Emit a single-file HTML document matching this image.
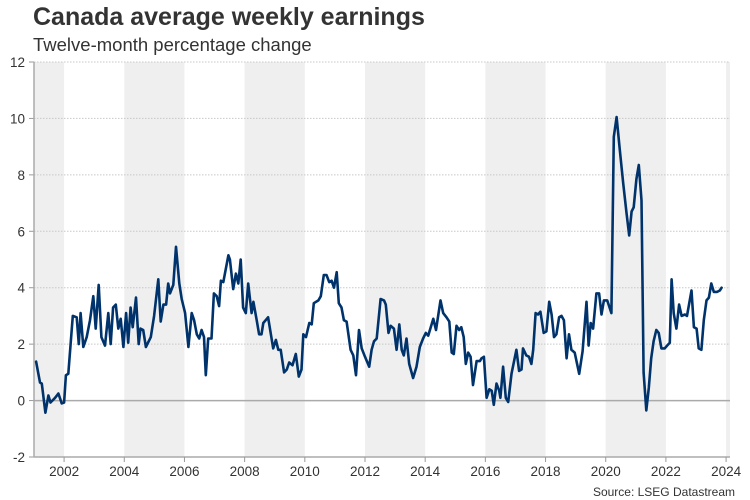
<!DOCTYPE html>
<html><head><meta charset="utf-8"><style>
body{margin:0;background:#fff;}
svg{display:block;font-family:"Liberation Sans",sans-serif;}
</style></head><body>
<svg id="chart" width="750" height="500">
<text x="33" y="25" font-size="25" font-weight="bold" fill="#333">Canada average weekly earnings</text>
<text x="33" y="51" font-size="18.5" fill="#333">Twelve-month percentage change</text>
<g id="bands"></g><g id="grid"></g><g id="axes"></g><g id="series"></g>
<text x="735" y="496" font-size="12" fill="#333" text-anchor="end">Source: LSEG Datastream</text>
</svg>
<script>
const yTicks=[-2,0,2,4,6,8,10,12];
const xTicks=[2002,2004,2006,2008,2010,2012,2014,2016,2018,2020,2022,2024];
const bandStarts=[2000,2004,2008,2012,2016,2020,2024];
const dates=[2001.07,2001.20,2001.26,2001.38,2001.48,2001.55,2001.70,2001.81,2001.92,2002.00,2002.06,2002.14,2002.29,2002.42,2002.49,2002.55,2002.64,2002.75,2002.86,2002.97,2003.05,2003.15,2003.24,2003.36,2003.47,2003.55,2003.63,2003.72,2003.80,2003.88,2003.97,2004.06,2004.13,2004.21,2004.28,2004.39,2004.48,2004.54,2004.63,2004.72,2004.88,2004.99,2005.13,2005.21,2005.30,2005.39,2005.46,2005.52,2005.63,2005.72,2005.83,2005.91,2006.02,2006.13,2006.24,2006.32,2006.41,2006.49,2006.57,2006.65,2006.71,2006.79,2006.90,2006.98,2007.07,2007.15,2007.21,2007.29,2007.46,2007.51,2007.62,2007.71,2007.79,2007.87,2007.95,2008.04,2008.12,2008.23,2008.29,2008.40,2008.48,2008.56,2008.62,2008.78,2008.95,2009.04,2009.12,2009.20,2009.31,2009.40,2009.48,2009.59,2009.70,2009.80,2009.89,2009.95,2010.04,2010.15,2010.23,2010.30,2010.45,2010.53,2010.63,2010.72,2010.81,2010.89,2010.97,2011.06,2011.13,2011.22,2011.30,2011.39,2011.52,2011.61,2011.70,2011.80,2011.89,2012.00,2012.14,2012.22,2012.30,2012.39,2012.52,2012.63,2012.69,2012.78,2012.85,2012.96,2013.05,2013.14,2013.22,2013.29,2013.38,2013.47,2013.60,2013.71,2013.82,2013.93,2014.02,2014.10,2014.27,2014.36,2014.51,2014.60,2014.71,2014.80,2014.88,2014.95,2015.04,2015.13,2015.20,2015.28,2015.35,2015.43,2015.51,2015.59,2015.71,2015.82,2015.87,2015.95,2016.04,2016.13,2016.21,2016.28,2016.37,2016.46,2016.50,2016.59,2016.68,2016.76,2016.87,2017.03,2017.12,2017.20,2017.25,2017.36,2017.45,2017.53,2017.59,2017.67,2017.75,2017.83,2017.94,2018.03,2018.12,2018.20,2018.28,2018.36,2018.45,2018.53,2018.61,2018.70,2018.78,2018.86,2018.97,2019.03,2019.12,2019.23,2019.36,2019.43,2019.50,2019.58,2019.69,2019.78,2019.86,2019.94,2020.05,2020.19,2020.27,2020.36,2020.47,2020.58,2020.69,2020.78,2020.86,2020.93,2021.02,2021.10,2021.19,2021.26,2021.35,2021.43,2021.51,2021.59,2021.68,2021.76,2021.85,2021.96,2022.04,2022.13,2022.19,2022.26,2022.35,2022.44,2022.52,2022.63,2022.70,2022.85,2022.93,2023.02,2023.09,2023.18,2023.26,2023.35,2023.43,2023.51,2023.59,2023.70,2023.79,2023.85];
const values=[1.38,0.64,0.6,-0.43,0.18,-0.07,0.1,0.25,-0.1,-0.07,0.9,0.95,3.0,2.95,2.0,3.1,1.9,2.25,2.85,3.7,2.55,4.1,2.25,1.95,3.1,2.0,3.3,3.4,2.55,2.9,1.9,3.1,2.05,3.3,2.6,3.65,2.0,2.55,2.5,1.9,2.25,3.0,4.3,2.8,3.4,3.4,4.15,3.8,4.1,5.45,4.15,3.6,3.1,1.9,3.1,2.85,2.35,2.2,2.5,2.25,0.9,2.2,2.2,3.8,3.7,3.35,4.25,4.2,5.15,5.0,3.95,4.5,4.15,5.0,3.3,3.1,4.15,3.1,3.5,2.85,2.35,2.35,2.75,2.95,1.85,2.15,1.8,1.8,1.0,1.1,1.35,1.25,1.65,0.85,1.1,2.35,2.25,2.75,2.7,3.45,3.55,3.7,4.45,4.45,4.2,4.25,4.0,4.55,3.45,3.3,2.85,2.8,1.8,1.6,0.9,2.5,1.85,1.55,1.2,1.8,2.1,2.2,3.6,3.55,3.4,2.4,2.65,2.55,1.8,2.7,1.8,1.6,2.2,1.3,0.8,1.2,1.9,2.2,2.4,2.3,2.9,2.5,3.55,3.1,2.95,2.8,1.7,1.65,2.65,2.5,2.6,2.25,1.3,1.7,1.55,0.55,1.4,1.4,1.5,1.55,0.1,0.4,0.35,-0.15,0.6,0.35,0.1,1.2,0.1,-0.05,0.95,1.8,1.05,1.1,1.85,1.6,1.55,1.3,1.8,3.1,3.05,3.15,2.4,2.45,3.5,3.05,2.25,2.35,2.95,3.0,2.85,1.5,2.35,1.8,1.7,1.4,0.95,1.75,3.5,1.95,2.75,2.55,3.8,3.8,3.05,3.55,3.55,3.1,9.35,10.05,8.85,7.7,6.65,5.85,6.7,6.85,7.85,8.35,7.1,1.0,-0.35,0.45,1.5,2.1,2.5,2.4,1.85,1.85,1.95,2.05,4.3,3.1,2.55,3.4,3.0,3.05,3.0,3.9,2.6,2.55,1.85,1.8,2.85,3.55,3.65,4.15,3.85,3.85,3.9,4.0];
const NS='http://www.w3.org/2000/svg';
const L=34,R=730,T=62,B=457,X0=2001,X1=2024.13;
const xs=v=>L+(v-X0)*(R-L)/(X1-X0);
const ys=v=>B-(v+2)*(B-T)/14;
function mk(tag,at,parent){const e=document.createElementNS(NS,tag);for(const k in at)e.setAttribute(k,at[k]);parent.appendChild(e);return e;}
const gB=document.getElementById('bands'),gG=document.getElementById('grid'),gA=document.getElementById('axes'),gS=document.getElementById('series');
bandStarts.forEach(s=>{
  const x0=Math.max(xs(s),L),x1=Math.min(xs(s+2),R);
  const r=mk('rect',{x:x0,y:T,width:x1-x0,height:B-T,fill:'#efefef'},gB);
  
  
});
yTicks.forEach(v=>{
  const y=ys(v);
  if(v!==-2){
    const l=mk('line',{x1:L,x2:R,y1:y,y2:y,stroke:v===0?'#aaa':'#c8c8c8','stroke-width':v===0?1.5:1,'stroke-dasharray':v===0?'none':'1.5,1.5'},gG);
    
    
  }
  mk('line',{x1:L-5,x2:L,y1:y,y2:y,stroke:'#999'},gA);
  const t=mk('text',{x:25,y:y+5,'font-size':13.5,fill:'#333','text-anchor':'end'},gA);
  t.textContent=v;
  
  
});
const ax=mk('line',{x1:L,x2:L,y1:T,y2:B,stroke:'#aaa','stroke-width':1.5},gA);


const bx=mk('line',{x1:L,x2:R,y1:B,y2:B,stroke:'#aaa','stroke-width':1.5},gA);


xTicks.forEach(v=>{
  const x=xs(v);
  mk('line',{x1:x,x2:x,y1:B,y2:B+5,stroke:'#999'},gA);
  const t=mk('text',{x:x,y:476,'font-size':13.5,fill:'#333','text-anchor':'middle'},gA);
  t.textContent=v;
  
  
});
const d=dates.map((t,i)=>(i?'L':'M')+xs(t).toFixed(1)+','+ys(values[i]).toFixed(1)).join('');
const p=mk('path',{d:d,fill:'none',stroke:'#00336b','stroke-width':2.6,'stroke-linejoin':'round','stroke-linecap':'round'},gS);


</script>
</body></html>
